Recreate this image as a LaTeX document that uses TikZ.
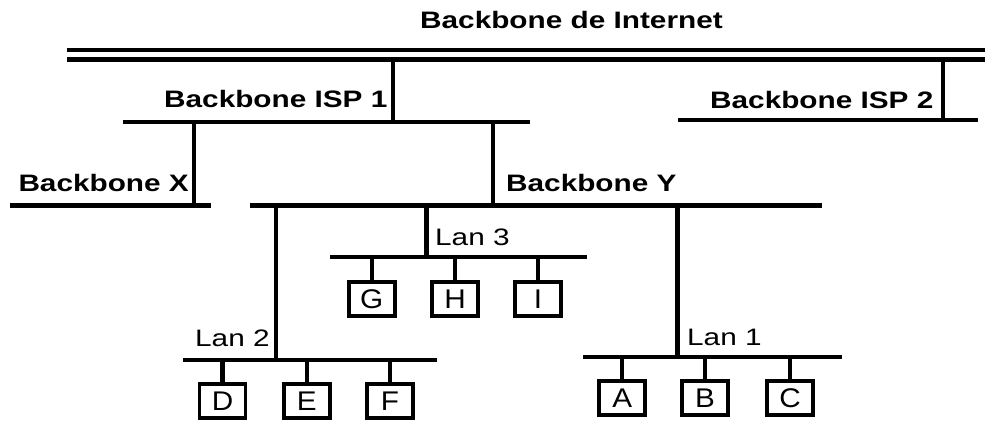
\documentclass[tikz,border=0pt]{standalone}
\usepackage{fontspec}
\setmainfont{Liberation Sans}
\usepackage{graphicx}
\begin{document}
\begin{tikzpicture}[x=1pt,y=-1pt,
  bus/.style={line width=4.2pt},
  lbl/.style={anchor=base west,inner sep=0pt,font=\fontsize{23.8}{28}\selectfont\bfseries},
  lanlbl/.style={anchor=base west,inner sep=0pt,font=\fontsize{23.8}{28}\selectfont},
  host/.style={draw,line width=3.8pt,minimum width=46pt,minimum height=34.5pt,inner sep=0pt,font=\fontsize{27}{30}\selectfont}]
\useasboundingbox (0,0) rectangle (985,423);
% coordinates
\coordinate (iA1) at (67,50);   \coordinate (iA2) at (985,50);
\coordinate (iB1) at (67,59.5); \coordinate (iB2) at (985,59.5);
\coordinate (i1top) at (393,59.5); \coordinate (i1bot) at (393,122);
\coordinate (isp1L) at (123,122); \coordinate (isp1R) at (530,122);
\coordinate (i2top) at (942.7,59.5); \coordinate (i2bot) at (942.7,120);
\coordinate (isp2L) at (678,120); \coordinate (isp2R) at (978,120);
\coordinate (xtop) at (194,122); \coordinate (xbot) at (194,205.5);
\coordinate (bxL) at (10,205.5); \coordinate (bxR) at (211,205.5);
\coordinate (ytop) at (493,122); \coordinate (ybot) at (493,205.5);
\coordinate (byL) at (250,205.5); \coordinate (byR) at (822,205.5);
\coordinate (l3top) at (426.5,205.5); \coordinate (l3bot) at (426.5,256.7);
\coordinate (lan3L) at (330,256.7); \coordinate (lan3R) at (587,256.7);
\coordinate (l2top) at (276,205.5); \coordinate (l2bot) at (276,360);
\coordinate (lan2L) at (183,360); \coordinate (lan2R) at (437,360);
\coordinate (l1top) at (677.5,205.5); \coordinate (l1bot) at (677.5,357);
\coordinate (lan1L) at (583,357); \coordinate (lan1R) at (842,357);
% buses
\draw[bus] (iA1) -- (iA2);
\draw[bus] (iB1) -- (iB2);
\draw[bus] (i1top) -- (i1bot);
\draw[bus] (isp1L) -- (isp1R);
\draw[bus] (i2top) -- (i2bot);
\draw[bus] (isp2L) -- (isp2R);
\draw[bus] (xtop) -- (xbot);
\draw[bus] (bxL) -- (bxR);
\draw[bus] (ytop) -- (ybot);
\draw[bus] (byL) -- (byR);
\draw[bus] (l3top) -- (l3bot);
\draw[bus] (lan3L) -- (lan3R);
\draw[bus] (l2top) -- (l2bot);
\draw[bus] (lan2L) -- (lan2R);
\draw[bus] (l1top) -- (l1bot);
\draw[bus] (lan1L) -- (lan1R);
% labels
\node[lbl] (tint) at (420,28.3) {\scalebox{1.25}[1]{Backbone de Internet}};
\node[lbl] (tisp1) at (164,107) {\scalebox{1.25}[1]{Backbone ISP 1}};
\node[lbl] (tisp2) at (710,108) {\scalebox{1.25}[1]{Backbone ISP 2}};
\node[lbl] (tx) at (18.3,191.7) {\scalebox{1.25}[1]{Backbone X}};
\node[lbl] (ty) at (506,191.7) {\scalebox{1.25}[1]{Backbone Y}};
\node[lanlbl] (tl3) at (435,245) {\scalebox{1.25}[1]{Lan 3}};
\node[lanlbl] (tl2) at (195,346.7) {\scalebox{1.25}[1]{Lan 2}};
\node[lanlbl] (tl1) at (687,345) {\scalebox{1.25}[1]{Lan 1}};
% hosts
\node[host] (G) at (371.7,299) {\scalebox{1.1}[1]{G}};
\node[host] (H) at (455,299) {\scalebox{1.1}[1]{H}};
\node[host] (I) at (538,299) {\scalebox{1.1}[1]{I}};
\node[host] (D) at (222.5,401) {\scalebox{1.1}[1]{D}};
\node[host] (E) at (306.7,401) {\scalebox{1.1}[1]{E}};
\node[host] (F) at (390,401) {\scalebox{1.1}[1]{F}};
\node[host] (A) at (622.3,398) {\scalebox{1.1}[1]{A}};
\node[host] (B) at (705,398) {\scalebox{1.1}[1]{B}};
\node[host] (C) at (790,398) {\scalebox{1.1}[1]{C}};
% stubs
\foreach \h in {G,H,I} \draw[bus] (\h.north) -- (\h.north |- lan3L);
\foreach \h in {D,E,F} \draw[bus] (\h.north) -- (\h.north |- lan2L);
\foreach \h in {A,B,C} \draw[bus] (\h.north) -- (\h.north |- lan1L);
\end{tikzpicture}
\end{document}
